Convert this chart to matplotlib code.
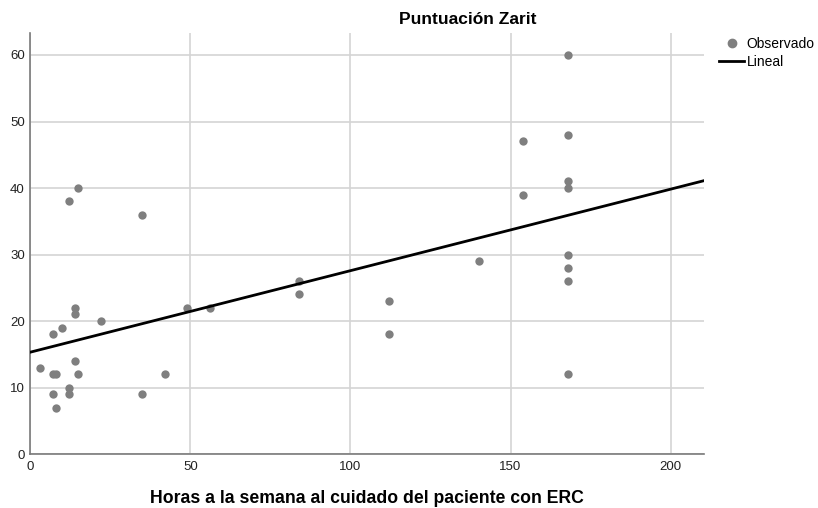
import numpy as np
import matplotlib
matplotlib.use("Agg")
import matplotlib.pyplot as plt
from matplotlib.lines import Line2D

plt.rcParams['font.family'] = ['Liberation Sans', 'DejaVu Sans']

# horas semanales de cuidado vs puntuacion Zarit
horas = [3, 7, 7, 8, 7, 8, 10, 12, 12, 12, 14, 14, 14, 15, 15, 22, 35, 35, 42,
         49, 56, 84, 84, 112, 112, 140, 154, 154,
         168, 168, 168, 168, 168, 168, 168, 168]
zarit = [13, 18, 12, 12, 9, 7, 19, 38, 10, 9, 22, 21, 14, 40, 12, 20, 36, 9, 12,
         22, 22, 26, 24, 23, 18, 29, 47, 39,
         60, 48, 41, 40, 30, 28, 26, 12]

x_ticks = [0, 50, 100, 150, 200]
y_ticks = [0, 10, 20, 30, 40, 50, 60]

fig = plt.figure(figsize=(8.18, 5.08), dpi=100)
ax = fig.add_axes([0.037, 0.106, 0.824, 0.829])

ax.scatter(horas, zarit, s=36, color='#7f7f7f', zorder=3, linewidths=0)

# ajuste lineal
b, a = np.polyfit(horas, zarit, 1)
xx = np.array([0, 210.5])
ax.plot(xx, a + b * xx, color='black', lw=2, zorder=4)

ax.set_xlim(0, 210.5)
ax.set_ylim(0, 63.3)
ax.set_xticks(x_ticks)
ax.set_yticks(y_ticks)
ax.grid(True, color='#d4d4d4', lw=1.2)
ax.set_axisbelow(True)
for s in ['top', 'right']:
    ax.spines[s].set_visible(False)
for s in ['left', 'bottom']:
    ax.spines[s].set_color('#7a7a7a')
    ax.spines[s].set_linewidth(1.2)
ax.tick_params(length=0, labelsize=9.5, colors='#222222')
ax.tick_params(axis='x', pad=5)
ax.tick_params(axis='y', pad=4)

ax.set_xlabel('Horas a la semana al cuidado del paciente con ERC',
              fontsize=12.7, fontweight='bold', labelpad=12)
fig.text(0.572, 0.962, 'Puntuación Zarit', ha='center', va='center',
         fontsize=12.5, fontweight='bold')

handles = [Line2D([], [], marker='o', ls='', color='#7f7f7f', markersize=6),
           Line2D([], [], color='black', lw=2)]
fig.legend(handles, ['Observado', 'Lineal'], loc='upper left',
           bbox_to_anchor=(0.879, 0.927), frameon=False, fontsize=10,
           handlelength=1.8, handletextpad=0.2, labelspacing=0.25,
           borderpad=0, borderaxespad=0)

fig.savefig('out.png', dpi=100)
